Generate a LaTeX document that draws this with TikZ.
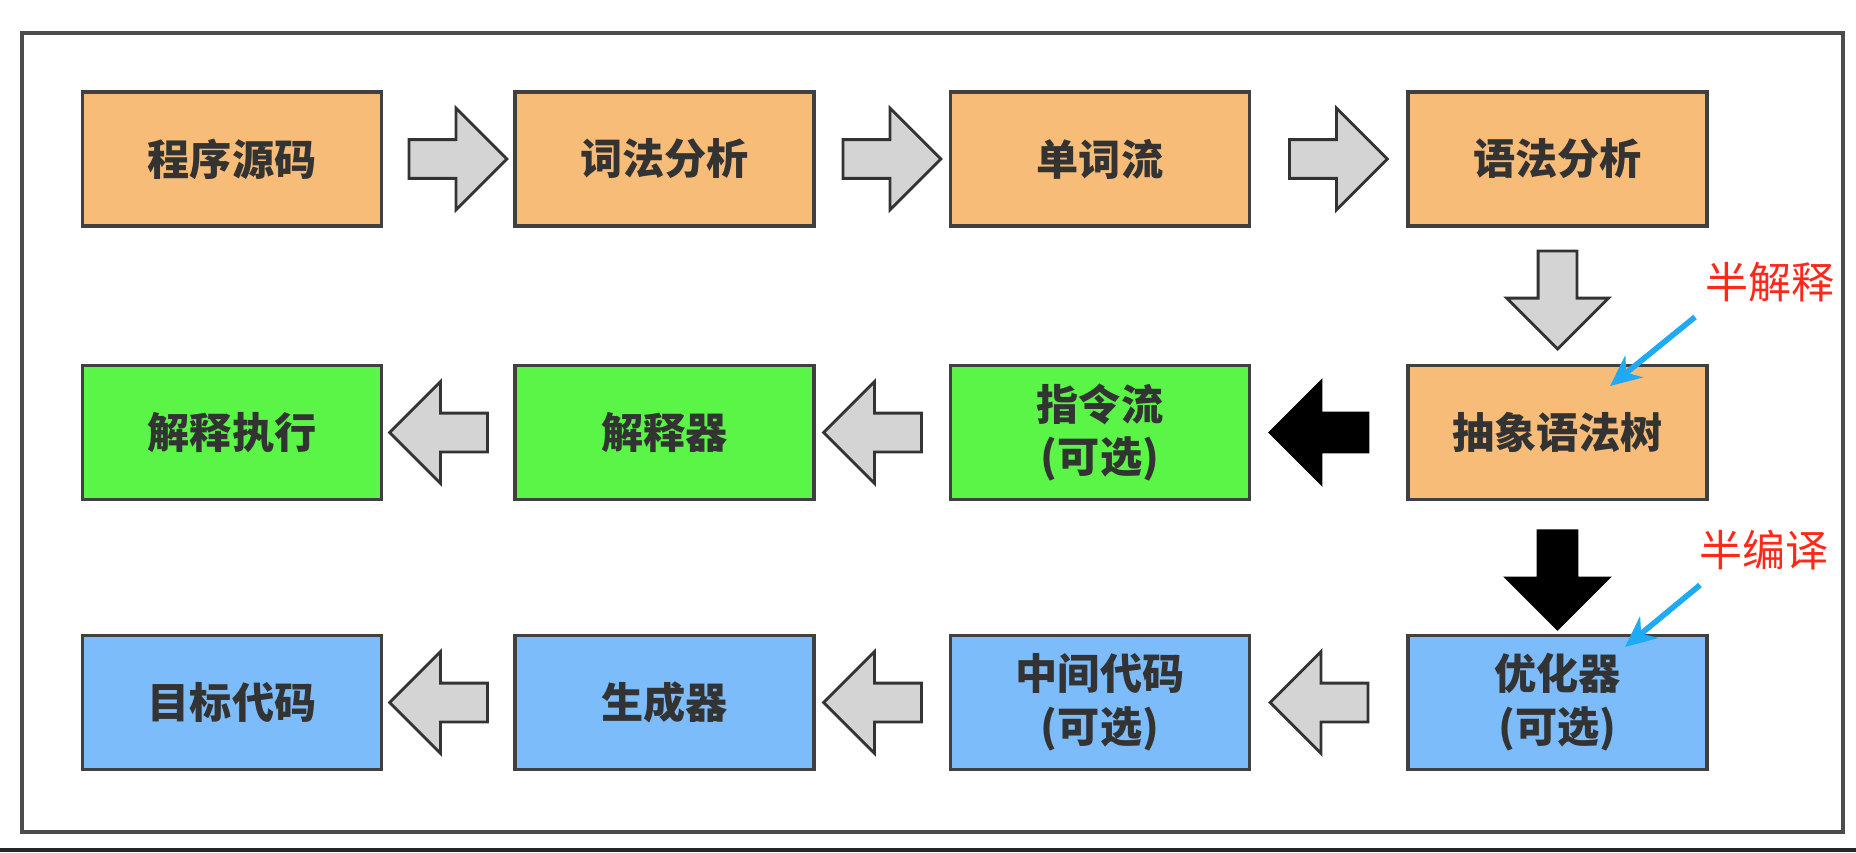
\documentclass[tikz,border=0pt]{standalone}
\usepackage{fontspec}
\newfontfamily\cjk{Noto Sans CJK SC}
\usetikzlibrary{calc,shapes.arrows,arrows.meta}
\definecolor{orangebox}{RGB}{247,188,120}
\definecolor{greenbox}{RGB}{90,245,70}
\definecolor{bluebox}{RGB}{125,188,250}
\definecolor{arrowgray}{RGB}{212,212,212}
\definecolor{notered}{RGB}{255,40,25}
\definecolor{noteblue}{RGB}{30,170,245}
\newcommand{\boxw}{5.98cm}
\newcommand{\boxh}{2.68cm}
\tikzset{
  stage/.style={draw=black!75, line width=2pt, minimum width=\boxw, minimum height=\boxh, inner sep=0pt, align=center, text=black!80, font=\cjk\bfseries\fontsize{24}{30}\selectfont},
  flow/.style={single arrow, draw=black!80, fill=arrowgray, line width=1.6pt, minimum height=1.96cm, inner xsep=0pt, inner ysep=0.36cm, single arrow head extend=0.63cm},
  mainflow/.style={flow, draw=black, fill=black},
  note/.style={text=notered, font=\cjk\fontsize{24.5}{28}\selectfont},
  hint/.style={draw=noteblue, line width=3.2pt, -{Stealth[length=0.62cm,width=0.56cm]}}
}

\begin{document}
\begin{tikzpicture}[x=0.02cm,y=-0.02cm]
\useasboundingbox (0,0) rectangle (1856,852);
\draw[black!70, line width=2.2pt] (22,33) rectangle (1843,832);
\fill[black!85] (0,848) rectangle (1856,852);
%row 1
\node[stage, fill=orangebox] (1) at (232,159) {程序源码};
\node[stage, fill=orangebox] (2) at (664.5,159) {词法分析};
\node[stage, fill=orangebox] (3) at (1100,159) {单词流};
\node[stage, fill=orangebox] (4) at (1557.5,159) {语法分析};
%row 2
\node[stage, fill=orangebox] (5) at (1557.5,432.5) {抽象语法树};
\node[stage, fill=greenbox] (6) at (1100,432.5) {指令流\\(可选)};
\node[stage, fill=greenbox] (7) at (664.5,432.5) {解释器};
\node[stage, fill=greenbox] (8) at (232,432.5) {解释执行};
%row 3
\node[stage, fill=bluebox] (9) at (1557.5,702.5) {优化器\\(可选)};
\node[stage, fill=bluebox] (10) at (1100,702.5) {中间代码\\(可选)};
\node[stage, fill=bluebox] (11) at (664.5,702.5) {生成器};
\node[stage, fill=bluebox] (12) at (232,702.5) {目标代码};
%arrows
\node[flow] (a12) at ($(1.east)!0.5!(2.west)$) {};
\node[flow] (a23) at ($(2.east)!0.5!(3.west)$) {};
\node[flow] (a34) at ($(3.east)!0.5!(4.west)$) {};
\node[flow, rotate=-90] (a45) at ($(4.south)!0.46!(5.north)$) {};
\node[mainflow, rotate=180] (a56) at ($(5.west)!0.5!(6.east)$) {};
\node[flow, rotate=180] (a67) at ($(6.west)!0.5!(7.east)$) {};
\node[flow, rotate=180] (a78) at ($(7.west)!0.5!(8.east)$) {};
\node[mainflow, rotate=-90] (a59) at ($(5.south)!0.52!(9.north)$) {};
\node[flow, rotate=180] (a910) at ($(9.west)!0.5!(10.east)$) {};
\node[flow, rotate=180] (a1011) at ($(10.west)!0.5!(11.east)$) {};
\node[flow, rotate=180] (a1112) at ($(11.west)!0.5!(12.east)$) {};
%notes
\node[note] (n1) at (1770,282) {半解释};
\node[note] (n2) at (1764,550) {半编译};
\coordinate (h1) at (1695,317);
\coordinate (t1) at (1610,386);
\coordinate (h2) at (1700,585);
\coordinate (t2) at (1625,647);
\draw[hint] (h1) -- (t1);
\draw[hint] (h2) -- (t2);
\end{tikzpicture}
\end{document}
